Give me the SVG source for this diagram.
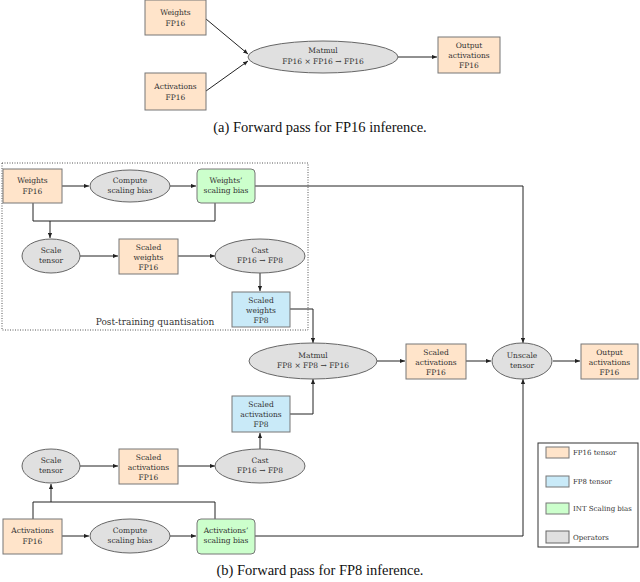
<svg xmlns="http://www.w3.org/2000/svg" width="640" height="582" viewBox="0 0 640 582">
<defs>
<style>
.t{font-family:"DejaVu Serif",serif;font-size:7.5px;fill:#333;text-anchor:middle}
.cap{font-family:"Liberation Serif","Times New Roman",Times,serif;font-size:14.5px;fill:#111;text-anchor:middle}
.lg{font-family:"DejaVu Serif",serif;font-size:7px;fill:#333}
.f16{fill:#FFE4CA;stroke:#777;stroke-width:1}
.f8{fill:#C9EAF8;stroke:#777;stroke-width:1}
.sb{fill:#CCFFCC;stroke:#777;stroke-width:1}
.op{fill:#E0E0E0;stroke:#666;stroke-width:1}
.c{fill:none;stroke:#222;stroke-width:1}
</style>
<marker id="ah" viewBox="0 0 6 6" refX="6" refY="3" markerWidth="5" markerHeight="5" orient="auto">
<path d="M0,0.5 L6,3 L0,5.5 Z" fill="#222"/>
</marker>
</defs>
<rect width="640" height="582" fill="#fff"/>

<!-- connectors -->
<g id="connectors">
<line class="c" x1="206" y1="19" x2="248" y2="54" marker-end="url(#ah)"/>
<line class="c" x1="206" y1="91" x2="248" y2="61" marker-end="url(#ah)"/>
<line class="c" x1="398" y1="57" x2="437" y2="57" marker-end="url(#ah)"/>

<line class="c" x1="62" y1="186" x2="89" y2="186" marker-end="url(#ah)"/>
<line class="c" x1="170" y1="186" x2="196" y2="186" marker-end="url(#ah)"/>
<polyline class="c" points="255,186 523,186 523,343" marker-end="url(#ah)"/>
<polyline class="c" points="33,203 33,221 215,221 215,203"/>
<line class="c" x1="50" y1="221" x2="50" y2="238" marker-end="url(#ah)"/>
<line class="c" x1="80" y1="256" x2="118" y2="256" marker-end="url(#ah)"/>
<line class="c" x1="178" y1="256" x2="215" y2="256" marker-end="url(#ah)"/>
<line class="c" x1="260" y1="273" x2="260" y2="291" marker-end="url(#ah)"/>
<polyline class="c" points="290,309 313,309 313,343" marker-end="url(#ah)"/>

<line class="c" x1="377" y1="361" x2="405" y2="361" marker-end="url(#ah)"/>
<line class="c" x1="466" y1="361" x2="491" y2="361" marker-end="url(#ah)"/>
<line class="c" x1="553" y1="361" x2="580" y2="361" marker-end="url(#ah)"/>

<polyline class="c" points="290,414 313,414 313,379" marker-end="url(#ah)"/>
<line class="c" x1="260" y1="449" x2="260" y2="433" marker-end="url(#ah)"/>
<line class="c" x1="80" y1="466" x2="118" y2="466" marker-end="url(#ah)"/>
<line class="c" x1="178" y1="466" x2="215" y2="466" marker-end="url(#ah)"/>
<polyline class="c" points="33,519 33,502 215,502 215,519"/>
<line class="c" x1="51" y1="502" x2="51" y2="484" marker-end="url(#ah)"/>
<line class="c" x1="62" y1="536" x2="89" y2="536" marker-end="url(#ah)"/>
<line class="c" x1="170" y1="536" x2="196" y2="536" marker-end="url(#ah)"/>
<polyline class="c" points="255,536 523,536 523,379" marker-end="url(#ah)"/>
</g>

<!-- (a) -->
<g id="a-weights"><rect class="f16" x="145" y="0" width="61" height="35"/>
<text class="t" x="175.5" y="15">Weights</text><text class="t" x="175.5" y="26">FP16</text></g>
<g id="a-activations"><rect class="f16" x="145" y="73" width="61" height="37"/>
<text class="t" x="175.5" y="89">Activations</text><text class="t" x="175.5" y="100">FP16</text></g>
<g id="a-matmul"><ellipse class="op" cx="323" cy="57" rx="75" ry="16"/>
<text class="t" x="323" y="53">Matmul</text><text class="t" x="323" y="64">FP16 × FP16 → FP16</text></g>
<g id="a-output"><rect class="f16" x="438" y="37" width="62" height="36"/>
<text class="t" x="469" y="48">Output</text><text class="t" x="469" y="58">activations</text><text class="t" x="469" y="68">FP16</text></g>
<text class="cap" x="320" y="132">(a) Forward pass for FP16 inference.</text>

<!-- (b) -->
<g id="ptq"><rect x="2" y="163" width="306" height="167" fill="none" stroke="#555" stroke-width="1" stroke-dasharray="1,1.5"/>
<text class="t" x="155" y="325" style="font-size:9px">Post-training quantisation</text></g>

<g id="w-fp16"><rect class="f16" x="3" y="169" width="59" height="34"/>
<text class="t" x="32.5" y="183">Weights</text><text class="t" x="32.5" y="194">FP16</text></g>
<g id="w-compute"><ellipse class="op" cx="130" cy="186" rx="40" ry="16"/>
<text class="t" x="130" y="183">Compute</text><text class="t" x="130" y="193">scaling bias</text></g>
<g id="w-bias"><rect class="sb" x="197" y="169" width="58" height="34" rx="4"/>
<text class="t" x="226" y="183">Weights’</text><text class="t" x="226" y="193">scaling bias</text></g>
<g id="w-scale"><ellipse class="op" cx="51" cy="256" rx="29" ry="17"/>
<text class="t" x="51" y="253">Scale</text><text class="t" x="51" y="263">tensor</text></g>
<g id="w-scaled16"><rect class="f16" x="119" y="239" width="59" height="35"/>
<text class="t" x="148.5" y="250">Scaled</text><text class="t" x="148.5" y="260">weights</text><text class="t" x="148.5" y="270">FP16</text></g>
<g id="w-cast"><ellipse class="op" cx="260" cy="256" rx="45" ry="17"/>
<text class="t" x="260" y="253">Cast</text><text class="t" x="260" y="263">FP16 → FP8</text></g>
<g id="w-scaled8"><rect class="f8" x="232" y="292" width="58" height="35"/>
<text class="t" x="261" y="303">Scaled</text><text class="t" x="261" y="313">weights</text><text class="t" x="261" y="323">FP8</text></g>

<g id="matmul"><ellipse class="op" cx="313" cy="361" rx="64" ry="18"/>
<text class="t" x="313" y="358">Matmul</text><text class="t" x="313" y="368">FP8 × FP8 → FP16</text></g>
<g id="scaled-act16-out"><rect class="f16" x="406" y="344" width="60" height="35"/>
<text class="t" x="436" y="355">Scaled</text><text class="t" x="436" y="365">activations</text><text class="t" x="436" y="375">FP16</text></g>
<g id="unscale"><ellipse class="op" cx="522" cy="361" rx="30" ry="18"/>
<text class="t" x="522" y="358">Unscale</text><text class="t" x="522" y="368">tensor</text></g>
<g id="output"><rect class="f16" x="581" y="344" width="57" height="35"/>
<text class="t" x="609.5" y="355">Output</text><text class="t" x="609.5" y="365">activations</text><text class="t" x="609.5" y="375">FP16</text></g>

<g id="a-scaled8"><rect class="f8" x="232" y="396" width="58" height="36"/>
<text class="t" x="261" y="407">Scaled</text><text class="t" x="261" y="417">activations</text><text class="t" x="261" y="427">FP8</text></g>
<g id="a-scale"><ellipse class="op" cx="51" cy="466" rx="29" ry="17"/>
<text class="t" x="51" y="463">Scale</text><text class="t" x="51" y="473">tensor</text></g>
<g id="a-scaled16"><rect class="f16" x="119" y="449" width="59" height="35"/>
<text class="t" x="148.5" y="460">Scaled</text><text class="t" x="148.5" y="470">activations</text><text class="t" x="148.5" y="480">FP16</text></g>
<g id="a-cast"><ellipse class="op" cx="260" cy="466" rx="45" ry="17"/>
<text class="t" x="260" y="463">Cast</text><text class="t" x="260" y="473">FP16 → FP8</text></g>
<g id="a-fp16"><rect class="f16" x="3" y="519" width="59" height="35"/>
<text class="t" x="32.5" y="533">Activations</text><text class="t" x="32.5" y="544">FP16</text></g>
<g id="a-compute"><ellipse class="op" cx="130" cy="536" rx="40" ry="17"/>
<text class="t" x="130" y="533">Compute</text><text class="t" x="130" y="543">scaling bias</text></g>
<g id="a-bias"><rect class="sb" x="197" y="519" width="58" height="35" rx="4"/>
<text class="t" x="226" y="533">Activations’</text><text class="t" x="226" y="543">scaling bias</text></g>

<g id="legend"><rect x="538" y="443" width="100" height="104" fill="#fff" stroke="#333" stroke-width="1"/>
<rect class="f16" x="546" y="447" width="23" height="11"/><text class="lg" x="573" y="455">FP16 tensor</text>
<rect class="f8" x="546" y="476" width="23" height="11"/><text class="lg" x="573" y="484">FP8 tensor</text>
<rect class="sb" x="546" y="503" width="23" height="11"/><text class="lg" x="573" y="511">INT Scaling bias</text>
<rect class="op" x="546" y="531" width="23" height="12"/><text class="lg" x="573" y="540">Operators</text></g>

<text class="cap" x="320" y="575">(b) Forward pass for FP8 inference.</text>
</svg>
